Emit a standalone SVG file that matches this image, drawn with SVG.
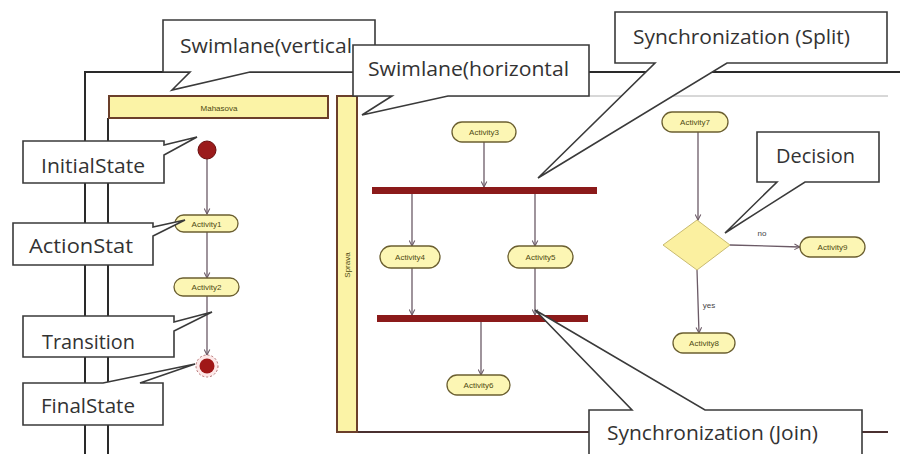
<svg xmlns="http://www.w3.org/2000/svg" width="900" height="454" viewBox="0 0 900 454">
<defs>
<marker id="arr" viewBox="0 0 10 10" refX="9" refY="5" markerWidth="7" markerHeight="7" orient="auto" markerUnits="userSpaceOnUse">
<path d="M1,1 L9,5 L1,9" fill="none" stroke="#6b5a66" stroke-width="1.5"/>
</marker>
<style>
.frame{stroke:#2a2a2a;stroke-width:2;fill:none}
.lane{fill:#fbf3a6;stroke:#6b3f2a;stroke-width:2}
.pill{fill:#fcf6b4;stroke:#6b5f30;stroke-width:1.3}
.pt{font-family:"Liberation Sans",Arial,sans-serif;font-size:8px;fill:#4e4a12;text-anchor:middle}
.con{stroke:#6b5a66;stroke-width:1.3;fill:none}
.bar{fill:#8b1a1a}
.call{fill:#ffffff;stroke:#3a3a3a;stroke-width:1.6;stroke-linejoin:miter}
.ct{font-family:"Open Sans","Liberation Sans",sans-serif;font-size:20px;fill:#333333}
.gl{font-family:"Liberation Sans",Arial,sans-serif;font-size:8px;fill:#444}
</style>
</defs>
<rect width="900" height="454" fill="#ffffff"/>

<g id="frame">
<path class="frame" d="M85,454 V72 H900"/>
<path d="M108,118 V454" stroke="#2a2a2a" stroke-width="2" fill="none"/>
</g>

<g id="lane-vertical">
<rect class="lane" x="109" y="96" width="219" height="22"/>
<text class="pt" x="219" y="111" font-size="9">Mahasova</text>
</g>

<g id="lane-horizontal">
<line x1="357" y1="96" x2="888" y2="96" stroke="#b0b0b0" stroke-width="1"/>
<line x1="337" y1="432" x2="888" y2="432" stroke="#4a3030" stroke-width="2"/>
<rect class="lane" x="337" y="96" width="20" height="336"/>
<text class="pt" x="0" y="0" transform="translate(350,265) rotate(-90)">Sprava</text>
</g>

<g id="connectors">
<line class="con" x1="207" y1="159" x2="207" y2="214" marker-end="url(#arr)"/>
<line class="con" x1="207" y1="232" x2="207" y2="278" marker-end="url(#arr)"/>
<line class="con" x1="207" y1="296" x2="207" y2="355" marker-end="url(#arr)"/>
<line class="con" x1="484" y1="142" x2="484" y2="187" marker-end="url(#arr)"/>
<line class="con" x1="412" y1="194" x2="412" y2="246" marker-end="url(#arr)"/>
<line class="con" x1="535" y1="194" x2="535" y2="246" marker-end="url(#arr)"/>
<line class="con" x1="412" y1="268" x2="412" y2="315" marker-end="url(#arr)"/>
<line class="con" x1="535" y1="268" x2="535" y2="315" marker-end="url(#arr)"/>
<line class="con" x1="481" y1="322" x2="481" y2="375" marker-end="url(#arr)"/>
<line class="con" x1="698" y1="132" x2="698" y2="220" marker-end="url(#arr)"/>
<line class="con" x1="730" y1="245" x2="800" y2="247" marker-end="url(#arr)"/>
<line class="con" x1="697" y1="270" x2="699" y2="333" marker-end="url(#arr)"/>
<text class="gl" x="762" y="236" text-anchor="middle">no</text>
<text class="gl" x="709" y="308" text-anchor="middle">yes</text>
</g>

<g id="initial"><circle cx="207" cy="150" r="9" fill="#9b1b1b" stroke="#6a0e0e" stroke-width="1"/></g>
<g id="activity1"><rect class="pill" x="175" y="215" width="63" height="17" rx="8.5"/><text class="pt" x="206.5" y="226.5">Activity1</text></g>
<g id="activity2"><rect class="pill" x="174" y="278" width="65" height="18" rx="9"/><text class="pt" x="206.5" y="290">Activity2</text></g>
<g id="final"><circle cx="207" cy="366" r="11" fill="#fde8e8" stroke="#b07070" stroke-width="1" stroke-dasharray="2,2"/><circle cx="207" cy="366" r="7.5" fill="#a01818"/></g>

<g id="activity3"><rect class="pill" x="452" y="122" width="64" height="20" rx="10"/><text class="pt" x="484" y="135">Activity3</text></g>
<g id="split"><rect class="bar" x="372" y="187" width="225" height="7"/></g>
<g id="activity4"><rect class="pill" x="380" y="246" width="60" height="22" rx="11"/><text class="pt" x="410" y="260">Activity4</text></g>
<g id="activity5"><rect class="pill" x="508" y="246" width="65" height="22" rx="11"/><text class="pt" x="540.5" y="260">Activity5</text></g>
<g id="join"><rect class="bar" x="377" y="315" width="211" height="7"/></g>
<g id="activity6"><rect class="pill" x="447" y="375" width="63" height="20" rx="10"/><text class="pt" x="478.5" y="388">Activity6</text></g>

<g id="activity7"><rect class="pill" x="662" y="112" width="66" height="20" rx="10"/><text class="pt" x="695" y="125">Activity7</text></g>
<g id="decision"><polygon points="697,220 730,245 697,270 663,245" fill="#fbf0a0" stroke="#c9bb70" stroke-width="1"/></g>
<g id="activity9"><rect class="pill" x="800" y="237" width="65" height="20" rx="10"/><text class="pt" x="832.5" y="250">Activity9</text></g>
<g id="activity8"><rect class="pill" x="673" y="333" width="62" height="20" rx="10"/><text class="pt" x="704" y="346">Activity8</text></g>

<g id="callout-swimlane-vertical">
<path class="call" d="M163,20 H375 V72 H250 L172,90 L190,72 H163 Z"/>
<text class="ct" x="180" y="53" textLength="172" lengthAdjust="spacingAndGlyphs">Swimlane(vertical</text>
</g>
<g id="callout-swimlane-horizontal">
<path class="call" d="M353,45 H589 V96 H448 L362,115 L392,96 H353 Z"/>
<text class="ct" x="368" y="76" textLength="201" lengthAdjust="spacingAndGlyphs">Swimlane(horizontal</text>
</g>
<g id="callout-split">
<path class="call" d="M615,12 H887 V63 H727 L538,178 L655,63 H615 Z"/>
<text class="ct" x="633" y="44" textLength="217" lengthAdjust="spacingAndGlyphs">Synchronization (Split)</text>
</g>
<g id="callout-decision">
<path class="call" d="M757,132 H879 V182 H805 L725,233 L777,182 H757 Z"/>
<text class="ct" x="776" y="163" textLength="79" lengthAdjust="spacingAndGlyphs">Decision</text>
</g>
<g id="callout-join">
<path class="call" d="M589,460 V410 H632 L535,310 L705,410 H862 V460 Z"/>
<text class="ct" x="607" y="440" textLength="211" lengthAdjust="spacingAndGlyphs">Synchronization (Join)</text>
</g>
<g id="callout-initialstate">
<path class="call" d="M23,141 H164 V145 L197,137 L164,155 V183 H23 Z"/>
<text class="ct" x="41" y="173" textLength="104" lengthAdjust="spacingAndGlyphs">InitialState</text>
</g>
<g id="callout-actionstate">
<path class="call" d="M13,223 H153 V227 L185,220 L153,236 V265 H13 Z"/>
<text class="ct" x="29" y="253" textLength="104" lengthAdjust="spacingAndGlyphs">ActionStat</text>
</g>
<g id="callout-transition">
<path class="call" d="M23,316 H174 V322 L212,312 L174,331 V357 H23 Z"/>
<text class="ct" x="42" y="349" textLength="93" lengthAdjust="spacingAndGlyphs">Transition</text>
</g>
<g id="callout-finalstate">
<path class="call" d="M23,383 H103 L195,364 L140,383 H163 V425 H23 Z"/>
<text class="ct" x="41" y="413" textLength="94" lengthAdjust="spacingAndGlyphs">FinalState</text>
</g>
</svg>
